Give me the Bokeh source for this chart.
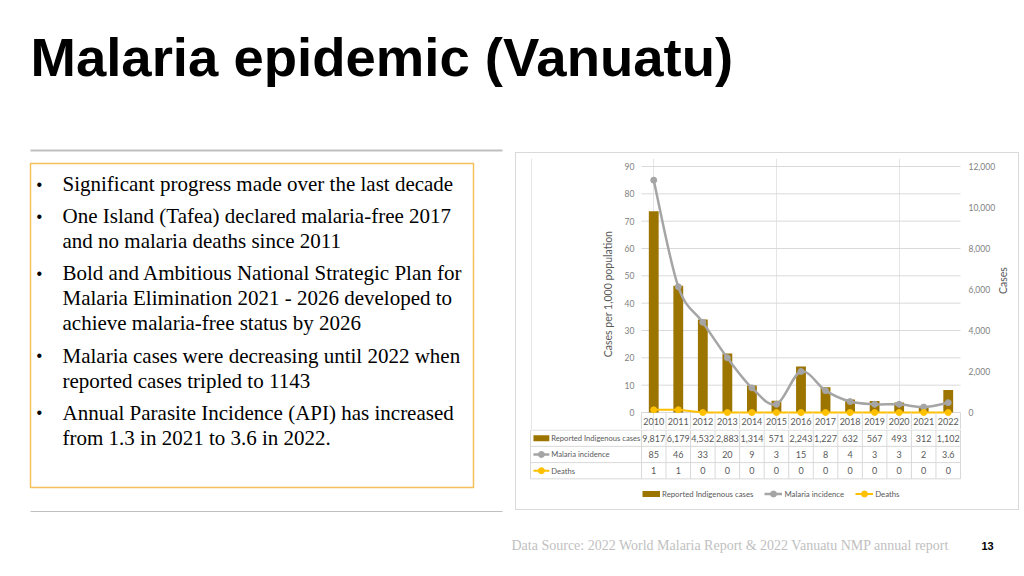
import math
from bokeh.plotting import figure
from bokeh.models import (Range1d, LinearAxis, FixedTicker, NumeralTickFormatter,
                          Legend, LegendItem)
from bokeh.layouts import column, row
from bokeh.embed import file_html
from bokeh.resources import INLINE
from bokeh.core.properties import value

# ---------------- data ----------------
years = [2010, 2011, 2012, 2013, 2014, 2015, 2016, 2017, 2018, 2019, 2020, 2021, 2022]
reported_cases = [9817, 6179, 4532, 2883, 1314, 571, 2243, 1227, 632, 567, 493, 312, 1102]
malaria_incidence = [85, 46, 33, 20, 9, 3, 15, 8, 4, 3, 3, 2, 3.6]
deaths = [1, 1, 0, 0, 0, 0, 0, 0, 0, 0, 0, 0, 0]
series_names = ["Reported Indigenous cases", "Malaria incidence", "Deaths"]
left_ticks = [0, 10, 20, 30, 40, 50, 60, 70, 80, 90]
right_ticks = [0, 2000, 4000, 6000, 8000, 10000, 12000]
left_axis_title = "Cases per 1,000 population"
right_axis_title = "Cases"

slide_title = "Malaria epidemic (Vanuatu)"
bullets = [
    ["Significant progress made over the last decade"],
    ["One Island (Tafea) declared malaria-free 2017", "and no malaria deaths since 2011"],
    ["Bold and Ambitious National Strategic Plan for",
     "Malaria Elimination 2021 - 2026  developed to",
     "achieve malaria-free status by 2026"],
    ["Malaria cases were decreasing until 2022 when", "reported cases tripled to 1143"],
    ["Annual Parasite Incidence (API) has increased", "from 1.3 in 2021 to 3.6 in 2022."],
]
source_note = "Data Source: 2022 World Malaria Report & 2022 Vanuatu NMP annual report"
page_number = "13"

# ---------------- styles ----------------
BAR = "#9c7400"
GRAY = "#a5a5a5"
GOLD = "#ffc000"
GRID = "#d9d9d9"
AXTXT = "#7f7f7f"
TBL = "#595959"
SANS = "Lato"
SERIF = "Liberation Serif"


def canvas(w, h):
    f = figure(width=w, height=h, x_range=Range1d(0, w), y_range=Range1d(h, 0),
               output_backend="svg", toolbar_location=None, min_border=0,
               x_axis_location=None, y_axis_location=None)
    f.grid.visible = False
    f.outline_line_color = None
    return f


# ---------------- header (page y 0..152) ----------------
hdr = canvas(1024, 152)
hdr.text(x=[30], y=[57], text=[slide_title], text_font=value("Liberation Sans"),
         text_font_style="bold", text_font_size="54.5px", text_color="#000000",
         text_baseline="middle")
hdr.line(x=[30, 502], y=[150, 150], line_color="#bfbfbf", line_width=2)

# ---------------- left text panel (page y 152..512) ----------------
lp = canvas(515, 360)
lp.quad(left=[30], right=[473], top=[11], bottom=[335], fill_color=None,
        line_color="#f4c05a", line_width=1.5)
lp.line(x=[30, 502], y=[359.5, 359.5], line_color="#bfbfbf", line_width=2)
line_t, line_y, bullet_y = [], [], []
yc = 31.5
for para in bullets:
    bullet_y.append(yc)
    for ln in para:
        line_t.append(ln)
        line_y.append(yc)
        yc += 25
    yc += 7.2
lp.text(x=[62] * len(line_t), y=line_y, text=line_t, text_font=value(SERIF),
        text_font_size="21px", text_color="#000000", text_baseline="middle")
lp.text(x=[36] * len(bullet_y), y=bullet_y, text=["\u2022"] * len(bullet_y),
        text_font=value("Liberation Sans"), text_font_size="16px",
        text_color="#000000", text_baseline="middle")

# ---------------- geometry of chart + table ----------------
FIG_W = 502
NAME_W = 113          # width of the table's series-name column (px)
YEAR_W = 322          # width of the 13 year columns (px)
LEFT_PAD = 13
RIGHT_PAD = FIG_W - LEFT_PAD - NAME_W - YEAR_W - 1
px_per = YEAR_W / len(years)
x0_year = years[0] - 0.5
x1_year = years[-1] + 0.5
xr = Range1d(x0_year - NAME_W / px_per, x1_year + 1 / px_per)

PLOT_H = 246          # height of the 0..90 value area (px)
TOP_PAD = 8           # frame space above the 90 line (px)
HEAD_PX = 17          # year header row of the table (px)
y_px = PLOT_H / (left_ticks[-1] - left_ticks[0])
y_top = left_ticks[-1] + TOP_PAD / y_px
y_bot = left_ticks[0] - HEAD_PX / y_px
r_scale = (right_ticks[-1] - right_ticks[0]) / (left_ticks[-1] - left_ticks[0])

# ---------------- chart (with the year header row) ----------------
CP_H = 5 + TOP_PAD + PLOT_H + HEAD_PX
cp = figure(width=FIG_W, height=CP_H, x_range=xr, y_range=Range1d(y_bot, y_top),
            output_backend="svg", toolbar_location=None,
            x_axis_location=None, y_axis_location="left",
            min_border_left=LEFT_PAD, min_border_right=RIGHT_PAD,
            min_border_top=5, min_border_bottom=0)
cp.outline_line_color = None
cp.ygrid.visible = False
cp.extra_y_ranges = {"cases": Range1d(y_bot * r_scale, y_top * r_scale)}

lax = cp.left[0]
lax.ticker = FixedTicker(ticks=left_ticks)
lax.axis_label = left_axis_title
lax.fixed_location = x0_year
rax = LinearAxis(y_range_name="cases", ticker=FixedTicker(ticks=right_ticks),
                 formatter=NumeralTickFormatter(format="0,0"), axis_label=right_axis_title)
cp.add_layout(rax, "right")
for ax in (lax, rax):
    ax.axis_line_color = None
    ax.major_tick_line_color = None
    ax.minor_tick_line_color = None
    ax.major_tick_out = 0
    ax.major_tick_in = 0
    ax.minor_tick_out = 0
    ax.major_label_text_font = SANS
    ax.major_label_text_font_size = "8.5px"
    ax.major_label_text_color = AXTXT
    ax.axis_label_text_font = SANS
    ax.axis_label_text_font_size = "10.5px"
    ax.axis_label_text_font_style = "normal"
    ax.axis_label_text_color = TBL
lax.major_label_standoff = 7
lax.axis_label_standoff = 8
rax.major_label_standoff = 7
rax.axis_label_standoff = 5
rax.axis_label_orientation = math.pi / 2

# horizontal gridlines over the year area only
cp.segment(x0=[x0_year] * len(left_ticks), y0=left_ticks,
           x1=[x1_year] * len(left_ticks), y1=left_ticks, line_color=GRID, line_width=1)

cp.vbar(x=years, top=reported_cases, width=0.4, y_range_name="cases",
        fill_color=BAR, line_color=None)

# smooth incidence curve (bezier segments through the data points)
n = len(years)
bx0, by0, bx1, by1, c0x, c0y, c1x, c1y = [], [], [], [], [], [], [], []
for i in range(n - 1):
    xp, yp = (years[i - 1], malaria_incidence[i - 1]) if i > 0 else (years[i], malaria_incidence[i])
    xa, ya = years[i], malaria_incidence[i]
    xb, yb = years[i + 1], malaria_incidence[i + 1]
    xn, yn = (years[i + 2], malaria_incidence[i + 2]) if i + 2 < n else (xb, yb)
    bx0.append(xa); by0.append(ya); bx1.append(xb); by1.append(yb)
    c0x.append(xa + (xb - xp) / 6.0); c0y.append(ya + (yb - yp) / 6.0)
    c1x.append(xb - (xn - xa) / 6.0); c1y.append(yb - (yn - ya) / 6.0)
cp.bezier(x0=bx0, y0=by0, x1=bx1, y1=by1, cx0=c0x, cy0=c0y, cx1=c1x, cy1=c1y,
          line_color=GRAY, line_width=2.5)
cp.scatter(x=years, y=malaria_incidence, size=6, marker="circle",
           fill_color=GRAY, line_color=GRAY)
cp.line(x=years, y=deaths, line_color=GOLD, line_width=2)
cp.scatter(x=years, y=deaths, size=6, marker="circle", fill_color=GOLD, line_color=GOLD)

# year header row of the data table
bounds = [y - 0.5 for y in years] + [x1_year]
cp.segment(x0=bounds, y0=[y_bot] * len(bounds), x1=bounds, y1=[0] * len(bounds),
           line_color=GRID, line_width=1)
cell_kw = dict(text_font=value(SANS), text_font_size="9px", text_color=TBL,
               text_align="center", text_baseline="middle")
cp.text(x=years, y=[y_bot / 2] * n, text=[str(y) for y in years], **cell_kw)

# ---------------- data table rows + legend ----------------
TBL_H = 80
ROW_PX = 16.25
tp = figure(width=FIG_W, height=TBL_H, x_range=xr,
            y_range=Range1d(3 + 0.6 / ROW_PX - TBL_H / ROW_PX, 3 + 0.6 / ROW_PX),
            output_backend="svg", toolbar_location=None,
            x_axis_location=None, y_axis_location=None,
            min_border_left=LEFT_PAD, min_border_right=RIGHT_PAD,
            min_border_top=0, min_border_bottom=0)
tp.grid.visible = False
tp.outline_line_color = None

table_left = xr.start + 1 / px_per
tp.segment(x0=bounds, y0=[0] * len(bounds), x1=bounds, y1=[3] * len(bounds),
           line_color=GRID, line_width=1)
tp.segment(x0=[table_left] * 4, y0=[0, 1, 2, 3], x1=[x1_year] * 4, y1=[0, 1, 2, 3],
           line_color=GRID, line_width=1)
tp.segment(x0=[table_left], y0=[0], x1=[table_left], y1=[3], line_color=GRID, line_width=1)

tp.text(x=years, y=[2.5] * n, text=[f"{v:,}" for v in reported_cases], **cell_kw)
tp.text(x=years, y=[1.5] * n, text=[f"{v:g}" for v in malaria_incidence], **cell_kw)
tp.text(x=years, y=[0.5] * n, text=[f"{v:g}" for v in deaths], **cell_kw)
tp.text(x=[xr.start + 22 / px_per] * 3, y=[2.5, 1.5, 0.5], text=series_names,
        text_font=value(SANS), text_font_size="7.6px", text_color=TBL,
        text_align="left", text_baseline="middle")

ix0, ix1 = xr.start + 4 / px_per, xr.start + 20 / px_per
im = (ix0 + ix1) / 2
r_bar = tp.line(x=[ix0, ix1], y=[2.5, 2.5], line_color=BAR, line_width=6, line_cap="butt")
r_inc_l = tp.line(x=[ix0, ix1], y=[1.5, 1.5], line_color=GRAY, line_width=2.5)
r_inc_d = tp.scatter(x=[im], y=[1.5], size=6, marker="circle", fill_color=GRAY, line_color=GRAY)
r_dth_l = tp.line(x=[ix0, ix1], y=[0.5, 0.5], line_color=GOLD, line_width=2)
r_dth_d = tp.scatter(x=[im], y=[0.5], size=6, marker="circle", fill_color=GOLD, line_color=GOLD)

legend = Legend(items=[LegendItem(label=series_names[0], renderers=[r_bar]),
                       LegendItem(label=series_names[1], renderers=[r_inc_l, r_inc_d]),
                       LegendItem(label=series_names[2], renderers=[r_dth_l, r_dth_d])],
                orientation="horizontal", location=(NAME_W, 8),
                glyph_width=18, glyph_height=15, label_height=15,
                label_standoff=2, spacing=11, padding=0, margin=0,
                border_line_color=None, background_fill_alpha=0,
                label_text_font=SANS, label_text_font_size="7.8px", label_text_color=TBL)
tp.add_layout(legend, "center")

chart_box = column(cp, tp, styles={"border": "1px solid #d9d9d9"})

# ---------------- footer (page y 512..576) ----------------
ft = canvas(1024, 64)
ft.text(x=[511], y=[33], text=[source_note], text_font=value(SERIF), text_font_size="14px",
        text_color="#bfbfbf", text_baseline="middle")
ft.text(x=[987], y=[33], text=[page_number], text_font=value("Liberation Sans"),
        text_font_style="bold", text_font_size="11px", text_color="#000000",
        text_align="center", text_baseline="middle")

page = column(hdr, row(lp, chart_box), ft)
open("out.html", "w").write(file_html(page, INLINE))
